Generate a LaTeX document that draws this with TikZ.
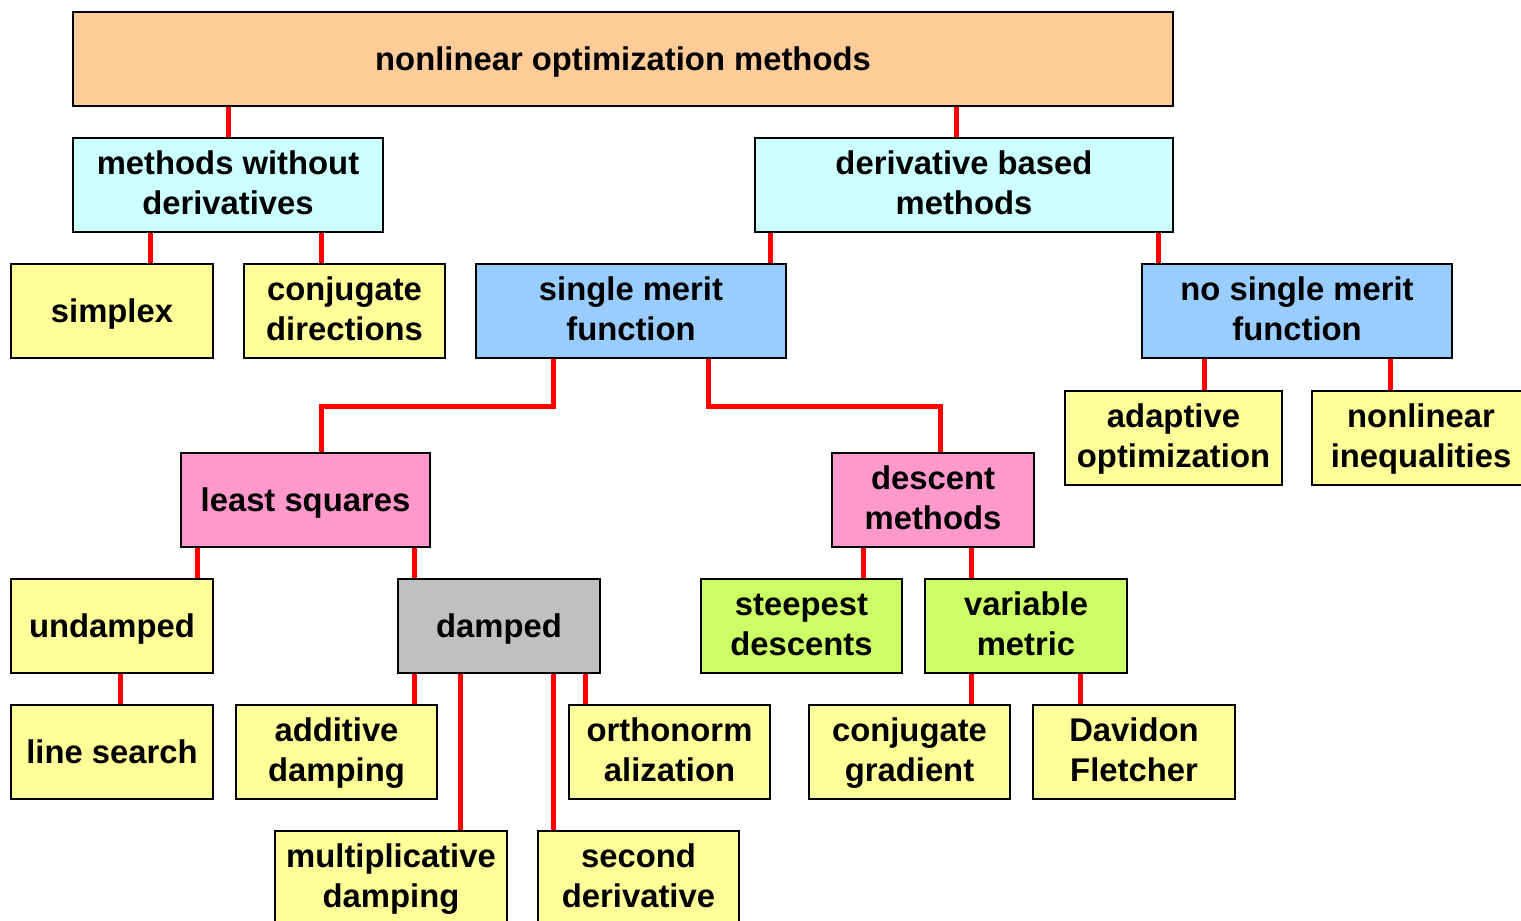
\documentclass[tikz,border=0pt]{standalone}
\usepackage{fontspec}
\setmainfont{Liberation Sans}
\pgfdeclarelayer{background}
\pgfsetlayers{background,main}
\definecolor{corange}{HTML}{FFCC99}
\definecolor{ccyan}{HTML}{CCFFFF}
\definecolor{cyellow}{HTML}{FFFF99}
\definecolor{cblue}{HTML}{99CCFF}
\definecolor{cpink}{HTML}{FF99CC}
\definecolor{cgray}{HTML}{C0C0C0}
\definecolor{cgreen}{HTML}{CCFF66}
\definecolor{cred}{HTML}{FF0000}
\newcommand{\ms}{\rule[-8.25pt]{0pt}{40pt}}
\newcommand{\md}{\rule[-12.25pt]{0pt}{44pt}}
\tikzset{
  box/.style={draw=black, line width=2pt, rectangle, inner sep=0pt, align=center,
    minimum height=94pt, font=\fontsize{32.8}{40}\selectfont\bfseries},
  link/.style={draw=cred, line width=5pt}
}
\begin{document}
\begin{tikzpicture}[x=1pt,y=1pt]
\useasboundingbox (0,0) rectangle (1521,-921);
\node[box, fill=corange, minimum width=1100pt] (root) at (623,-59) {\ms nonlinear optimization methods};
\node[box, fill=ccyan, minimum width=310pt] (mwd) at (228,-185) {\ms methods without\\\md derivatives};
\node[box, fill=ccyan, minimum width=418pt] (dbm) at (964,-185) {\ms derivative based\\\md methods};
\node[box, fill=cyellow, minimum width=202pt] (simplex) at (112,-311) {\ms simplex};
\node[box, fill=cyellow, minimum width=201pt] (conjdir) at (344.5,-311) {\ms conjugate\\\md directions};
\node[box, fill=cblue, minimum width=310pt] (smf) at (631,-311) {\ms single merit\\\md function};
\node[box, fill=cblue, minimum width=310pt] (nsmf) at (1297,-311) {\ms no single merit\\\md function};
\node[box, fill=cyellow, minimum width=217pt] (adapt) at (1173.5,-437.5) {\ms adaptive\\\md optimization};
\node[box, fill=cyellow, minimum width=218pt] (nlineq) at (1421,-437.5) {\ms nonlinear\\\md inequalities};
\node[box, fill=cpink, minimum width=249pt] (ls) at (305.5,-500) {\ms least squares};
\node[box, fill=cpink, minimum width=202pt] (desc) at (933,-500) {\ms descent\\\md methods};
\node[box, fill=cyellow, minimum width=202pt] (undamped) at (112,-626) {\ms undamped};
\node[box, fill=cgray, minimum width=202pt] (damped) at (499,-626) {\ms damped};
\node[box, fill=cgreen, minimum width=201pt] (steep) at (801.5,-626) {\ms steepest\\\md descents};
\node[box, fill=cgreen, minimum width=202pt] (varm) at (1026,-626) {\ms variable\\\md metric};
\node[box, fill=cyellow, minimum width=202pt] (lsearch) at (112,-752) {\ms line search};
\node[box, fill=cyellow, minimum width=201pt] (addd) at (336.5,-752) {\ms additive\\\md damping};
\node[box, fill=cyellow, minimum width=201pt] (ortho) at (669.5,-752) {\ms orthonorm\\\md alization};
\node[box, fill=cyellow, minimum width=201pt] (cgrad) at (909.5,-752) {\ms conjugate\\\md gradient};
\node[box, fill=cyellow, minimum width=202pt] (dfl) at (1134,-752) {\ms Davidon\\\md Fletcher};
\node[box, fill=cyellow, minimum width=232pt] (multd) at (391,-878) {\ms multiplicative\\\md damping};
\node[box, fill=cyellow, minimum width=201pt] (second) at (638.5,-878) {\ms second\\\md derivative};
\begin{pgfonlayer}{background}
\draw[link] (mwd.north) -- (mwd.north |- root.south);
\draw[link] ([xshift=-8pt]dbm.north) -- ([xshift=-8pt]dbm.north |- root.south);
\draw[link] ([xshift=38pt]simplex.north) -- ([xshift=38pt]simplex.north |- mwd.south);
\draw[link] ([xshift=-23.5pt]conjdir.north) -- ([xshift=-23.5pt]conjdir.north |- mwd.south);
\draw[link] ([xshift=139pt]smf.north) -- ([xshift=139pt]smf.north |- dbm.south);
\draw[link] ([xshift=-139pt]nsmf.north) -- ([xshift=-139pt]nsmf.north |- dbm.south);
\draw[link] ([xshift=-78pt]smf.south) -- ++(0,-47) -| ([xshift=15.5pt]ls.north);
\draw[link] ([xshift=77pt]smf.south) -- ++(0,-47) -| ([xshift=7pt]desc.north);
\draw[link] ([xshift=30.5pt]adapt.north) -- ([xshift=30.5pt]adapt.north |- nsmf.south);
\draw[link] ([xshift=-31pt]nlineq.north) -- ([xshift=-31pt]nlineq.north |- nsmf.south);
\draw[link] ([xshift=85pt]undamped.north) -- ([xshift=85pt]undamped.north |- ls.south);
\draw[link] ([xshift=-85pt]damped.north) -- ([xshift=-85pt]damped.north |- ls.south);
\draw[link] ([xshift=61.5pt]steep.north) -- ([xshift=61.5pt]steep.north |- desc.south);
\draw[link] ([xshift=-55pt]varm.north) -- ([xshift=-55pt]varm.north |- desc.south);
\draw[link] ([xshift=8pt]lsearch.north) -- ([xshift=8pt]lsearch.north |- undamped.south);
\draw[link] ([xshift=77.5pt]addd.north) -- ([xshift=77.5pt]addd.north |- damped.south);
\draw[link] ([xshift=69pt]multd.north) -- ([xshift=69pt]multd.north |- damped.south);
\draw[link] ([xshift=-85.5pt]second.north) -- ([xshift=-85.5pt]second.north |- damped.south);
\draw[link] ([xshift=-84.5pt]ortho.north) -- ([xshift=-84.5pt]ortho.north |- damped.south);
\draw[link] ([xshift=61.5pt]cgrad.north) -- ([xshift=61.5pt]cgrad.north |- varm.south);
\draw[link] ([xshift=-54pt]dfl.north) -- ([xshift=-54pt]dfl.north |- varm.south);
\end{pgfonlayer}
\end{tikzpicture}
\end{document}
